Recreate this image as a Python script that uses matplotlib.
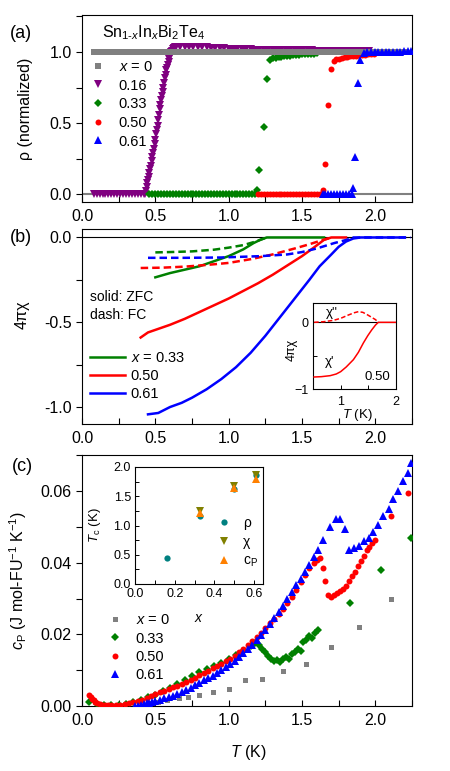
import matplotlib
matplotlib.use("Agg")
import matplotlib.pyplot as plt
from matplotlib.ticker import MultipleLocator

plt.rcParams['font.family'] = ['Liberation Sans', 'DejaVu Sans']
plt.rcParams['mathtext.fontset'] = 'custom'
plt.rcParams['mathtext.rm'] = 'Liberation Sans'
plt.rcParams['mathtext.it'] = 'Liberation Sans:italic'
plt.rcParams['mathtext.bf'] = 'Liberation Sans:bold'

# ---------------- Panel (a): normalized resistivity ----------------
T_a0 = [0.08, 0.12, 0.16, 0.20, 0.24, 0.28, 0.32, 0.36, 0.40, 0.44, 0.48, 0.52, 0.56, 0.60,
        0.64, 0.68, 0.72, 0.76, 0.80, 0.84, 0.88, 0.92, 0.96, 1.00, 1.04, 1.08, 1.12, 1.16,
        1.20, 1.24, 1.28, 1.32, 1.36, 1.40, 1.44, 1.48, 1.52, 1.56, 1.60, 1.64, 1.68, 1.72,
        1.76, 1.80, 1.84, 1.88, 1.92, 1.96, 2.00, 2.04, 2.08, 2.12, 2.16, 2.20]
rho_a0 = [1.0, 1.0, 1.0, 1.0, 1.0, 1.0, 1.0, 1.0, 1.0, 1.0, 1.0, 1.0, 1.0, 1.0,
          1.0, 1.0, 1.0, 1.0, 1.0, 1.0, 1.0, 1.0, 1.0, 1.0, 1.0, 1.0, 1.0, 1.0,
          1.0, 1.0, 1.0, 1.0, 1.0, 1.0, 1.0, 1.0, 1.0, 1.0, 1.0, 1.0, 1.0, 1.0,
          1.0, 1.0, 1.0, 1.0, 1.0, 1.0, 1.0, 1.0, 1.0, 1.0, 1.0, 1.0]

T_a16 = [0.08, 0.10, 0.12, 0.14, 0.16, 0.18, 0.20, 0.22, 0.24, 0.26, 0.28, 0.30, 0.32, 0.34,
         0.36, 0.38, 0.40, 0.42,
         0.430, 0.435, 0.440, 0.445, 0.450, 0.455, 0.460, 0.465, 0.470, 0.475, 0.480, 0.485,
         0.490, 0.495, 0.500, 0.505, 0.510, 0.515, 0.520, 0.525, 0.530, 0.535, 0.540, 0.545,
         0.550, 0.555, 0.560, 0.565, 0.570, 0.575, 0.580, 0.585, 0.590, 0.595, 0.600, 0.605,
         0.610, 0.615, 0.620, 0.625, 0.630, 0.635, 0.640,
         0.67, 0.70, 0.73, 0.76, 0.79, 0.82, 0.85, 0.88, 0.91, 0.94, 0.97,
         1.00, 1.03, 1.06, 1.09, 1.12, 1.15, 1.18, 1.21, 1.24, 1.27, 1.30,
         1.33, 1.36, 1.39, 1.42, 1.45, 1.48, 1.51, 1.54, 1.57, 1.60, 1.63,
         1.66, 1.69, 1.72, 1.75, 1.78, 1.81, 1.84, 1.87, 1.90, 1.93, 1.96]
rho_a16 = [0.0, 0.0, 0.0, 0.0, 0.0, 0.0, 0.0, 0.0, 0.0, 0.0, 0.0, 0.0, 0.0, 0.0,
           0.0, 0.0, 0.0, 0.0,
           0.0, 0.02, 0.05, 0.08, 0.10, 0.12, 0.15, 0.18, 0.20, 0.23, 0.26, 0.29,
           0.32, 0.35, 0.38, 0.42, 0.45, 0.48, 0.52, 0.56, 0.60, 0.63, 0.66, 0.69,
           0.72, 0.75, 0.78, 0.82, 0.84, 0.87, 0.89, 0.91, 0.93, 0.95, 0.97, 0.985,
           1.0, 1.01, 1.02, 1.025, 1.03, 1.033, 1.035,
           1.036, 1.038, 1.037, 1.036, 1.035, 1.034, 1.032, 1.03, 1.028, 1.026, 1.025,
           1.024, 1.022, 1.021, 1.02, 1.019, 1.018, 1.017, 1.017, 1.016, 1.016, 1.015,
           1.015, 1.014, 1.014, 1.013, 1.013, 1.012, 1.012, 1.011, 1.011, 1.01, 1.01,
           1.01, 1.009, 1.009, 1.008, 1.008, 1.007, 1.007, 1.006, 1.006, 1.005, 1.005]

T_a33 = [0.46, 0.48, 0.50, 0.52, 0.54, 0.56, 0.58, 0.60, 0.62, 0.64, 0.66, 0.68, 0.70, 0.72,
         0.74, 0.76, 0.78, 0.80, 0.82, 0.84, 0.86, 0.88, 0.90, 0.92, 0.94, 0.96, 0.98, 1.00,
         1.02, 1.04, 1.06, 1.08, 1.10, 1.12, 1.14, 1.16, 1.18, 1.19, 1.21, 1.24, 1.26, 1.28,
         1.30, 1.32, 1.34, 1.36, 1.38, 1.40, 1.42, 1.44, 1.46, 1.48, 1.50, 1.52, 1.54, 1.56,
         1.58, 1.60]
rho_a33 = [0.0, 0.0, 0.0, 0.0, 0.0, 0.0, 0.0, 0.0, 0.0, 0.0, 0.0, 0.0, 0.0, 0.0,
           0.0, 0.0, 0.0, 0.0, 0.0, 0.0, 0.0, 0.0, 0.0, 0.0, 0.0, 0.0, 0.0, 0.0,
           0.0, 0.0, 0.0, 0.0, 0.0, 0.0, 0.0, 0.0, 0.0, 0.03, 0.17, 0.47, 0.81, 0.945,
           0.955, 0.96, 0.963, 0.966, 0.969, 0.972, 0.975, 0.977, 0.979, 0.981, 0.983, 0.985,
           0.987, 0.988, 0.989, 0.99]

T_a50 = [1.20, 1.22, 1.24, 1.26, 1.28, 1.30, 1.32, 1.34, 1.36, 1.38, 1.40, 1.42, 1.44, 1.46,
         1.48, 1.50, 1.52, 1.54, 1.56, 1.58, 1.60, 1.62, 1.64, 1.66, 1.68, 1.70, 1.715, 1.73,
         1.75, 1.77, 1.79, 1.81, 1.83, 1.85, 1.87, 1.89, 1.91, 1.93, 1.95, 1.97, 1.99]
rho_a50 = [0.0, 0.0, 0.0, 0.0, 0.0, 0.0, 0.0, 0.0, 0.0, 0.0, 0.0, 0.0, 0.0, 0.0,
           0.0, 0.0, 0.0, 0.0, 0.0, 0.0, 0.0, 0.0, 0.03, 0.21, 0.63, 0.88, 0.94, 0.948,
           0.953, 0.958, 0.962, 0.966, 0.969, 0.972, 0.975, 0.977, 0.979, 0.981, 0.983, 0.985,
           0.987]

T_a61 = [1.64, 1.66, 1.68, 1.70, 1.72, 1.74, 1.76, 1.78, 1.80, 1.82, 1.84, 1.845, 1.86, 1.88,
         1.895, 1.92, 1.945, 1.97, 1.995, 2.02, 2.045, 2.07, 2.095, 2.12, 2.145, 2.17, 2.195,
         2.22, 2.245]
rho_a61 = [0.0, 0.0, 0.0, 0.0, 0.0, 0.0, 0.0, 0.0, 0.0, 0.0, 0.0, 0.04, 0.26, 0.78,
           0.945, 0.99, 1.0, 1.0, 1.0, 1.0, 1.0, 1.0, 1.0, 1.0, 1.0, 1.003, 1.005,
           1.01, 1.01]

# ---------------- Panel (b): susceptibility ----------------
T_b33_zfc = [0.50, 0.60, 0.70, 0.80, 0.90, 1.00, 1.10, 1.17, 1.22, 1.26, 1.40, 1.55, 1.65]
chi_b33_zfc = [-0.235, -0.21, -0.19, -0.17, -0.14, -0.11, -0.07, -0.033, -0.012, 0.0, 0.0, 0.0, 0.0]
T_b33_fc = [0.50, 0.60, 0.75, 0.90, 1.00, 1.10, 1.18, 1.26]
chi_b33_fc = [-0.088, -0.086, -0.082, -0.072, -0.06, -0.045, -0.025, 0.0]

T_b50_zfc = [0.40, 0.45, 0.50, 0.60, 0.70, 0.80, 0.90, 1.00, 1.10, 1.20, 1.30, 1.40, 1.50,
             1.58, 1.65, 1.70, 1.75, 1.80]
chi_b50_zfc = [-0.59, -0.56, -0.545, -0.515, -0.48, -0.44, -0.40, -0.36, -0.315, -0.27,
               -0.22, -0.165, -0.11, -0.06, -0.014, 0.0, 0.0, 0.0]
T_b50_fc = [0.40, 0.55, 0.70, 0.85, 1.00, 1.15, 1.30, 1.45, 1.55, 1.63, 1.70]
chi_b50_fc = [-0.18, -0.178, -0.172, -0.162, -0.15, -0.128, -0.10, -0.065, -0.04, -0.018, 0.0]

T_b61_zfc = [0.45, 0.52, 0.60, 0.68, 0.75, 0.85, 0.95, 1.05, 1.15, 1.25, 1.35, 1.45, 1.55,
             1.62, 1.70, 1.75, 1.80, 1.85, 1.90, 2.00, 2.10, 2.20]
chi_b61_zfc = [-1.043, -1.035, -1.0, -0.975, -0.945, -0.895, -0.835, -0.765, -0.68, -0.58,
               -0.47, -0.36, -0.25, -0.17, -0.10, -0.055, -0.024, -0.006, 0.0, 0.0, 0.0, 0.0]
T_b61_fc = [0.45, 0.70, 0.95, 1.22, 1.40, 1.50, 1.60, 1.72, 1.80, 1.85, 1.95, 2.05, 2.15, 2.24]
chi_b61_fc = [-0.12, -0.12, -0.118, -0.11, -0.10, -0.086, -0.065, -0.033, -0.015, 0.0,
              0.0, 0.0, 0.0, 0.0]

# Inset (b): x = 0.50 ac susceptibility
T_in_re = [0.52, 0.65, 0.81, 0.92, 1.00, 1.10, 1.23, 1.32, 1.41, 1.49, 1.56, 1.63, 1.68,
           1.80, 1.90, 2.00]
chi_in_re = [-0.82, -0.815, -0.80, -0.775, -0.74, -0.67, -0.56, -0.45, -0.31, -0.20, -0.115,
             -0.04, 0.0, 0.0, 0.0, 0.0]
T_in_im = [0.52, 0.70, 0.87, 1.00, 1.14, 1.25, 1.32, 1.40, 1.47, 1.55, 1.63, 1.68]
chi_in_im = [0.0, 0.01, 0.03, 0.06, 0.11, 0.145, 0.16, 0.15, 0.12, 0.08, 0.04, 0.0]

# ---------------- Panel (c): specific heat ----------------
T_c0 = [0.45, 0.52, 0.58, 0.66, 0.72, 0.80, 0.89, 1.00, 1.11, 1.23, 1.37, 1.53, 1.70, 1.89, 2.11]
cp_c0 = [0.0008, 0.0012, 0.0016, 0.0021, 0.0026, 0.0031, 0.0038, 0.0048, 0.0073, 0.0075,
         0.0098, 0.0116, 0.0166, 0.0220, 0.0300]

T_c33 = [0.05, 0.10, 0.15, 0.20, 0.25, 0.30, 0.35, 0.40, 0.45, 0.50, 0.55, 0.60, 0.65, 0.70,
         0.75, 0.80, 0.85, 0.90, 0.95, 1.00, 1.05, 1.10, 1.15, 1.18, 1.21, 1.23, 1.25, 1.27,
         1.29, 1.31, 1.33, 1.35, 1.37, 1.39, 1.41, 1.43, 1.45, 1.47, 1.49, 1.51, 1.53, 1.55,
         1.57, 1.59, 1.61, 1.83, 2.04, 2.24]
cp_c33 = [0.0012, 0.0006, 0.0003, 0.0003, 0.0004, 0.0006, 0.0010, 0.0016, 0.0024, 0.0032,
          0.0041, 0.0051, 0.0061, 0.0072, 0.0083, 0.0094, 0.0104, 0.0112, 0.0120, 0.0130,
          0.0142, 0.0155, 0.0167, 0.0175, 0.0170, 0.0160, 0.0150, 0.0140, 0.0132, 0.0125,
          0.0128, 0.0122, 0.0130, 0.0138, 0.0132, 0.0145, 0.0150, 0.0158, 0.0155, 0.0180,
          0.0185, 0.0195, 0.0190, 0.0205, 0.0212, 0.0287, 0.0380, 0.0470]

T_c50 = [0.05, 0.06, 0.07, 0.08, 0.09, 0.10, 0.12, 0.14, 0.16, 0.18, 0.20, 0.23, 0.26, 0.29,
         0.32, 0.35, 0.38, 0.41, 0.44, 0.47, 0.50, 0.53, 0.56, 0.59, 0.62, 0.65, 0.68, 0.71,
         0.74, 0.77, 0.80, 0.83, 0.86, 0.89, 0.92, 0.95, 0.98, 1.01, 1.04, 1.07, 1.10, 1.13,
         1.16, 1.19, 1.22, 1.25, 1.28, 1.31, 1.34, 1.37, 1.40, 1.43, 1.46, 1.49, 1.52, 1.55,
         1.58, 1.60, 1.62, 1.64, 1.66, 1.68, 1.70, 1.72, 1.74, 1.76, 1.78, 1.80, 1.82, 1.84,
         1.86, 1.88, 1.90, 1.92, 1.94, 1.96, 1.98, 2.00, 2.11, 2.22]
cp_c50 = [0.0030, 0.0025, 0.0020, 0.0016, 0.0012, 0.0009, 0.0006, 0.0004, 0.0003, 0.0003,
          0.0003, 0.0003, 0.0004, 0.0005, 0.0007, 0.0010, 0.0013, 0.0017, 0.0022, 0.0028,
          0.0033, 0.0038, 0.0043, 0.0048, 0.0052, 0.0057, 0.0062, 0.0067, 0.0072, 0.0079,
          0.0086, 0.0092, 0.0098, 0.0105, 0.0111, 0.0118, 0.0125, 0.0132, 0.0141, 0.0150,
          0.0160, 0.0170, 0.0181, 0.0193, 0.0205, 0.0218, 0.0231, 0.0244, 0.0257, 0.0272,
          0.0287, 0.0305, 0.0323, 0.0345, 0.0365, 0.0385, 0.0400, 0.0408, 0.0412, 0.0385,
          0.0348, 0.0310, 0.0305, 0.0310, 0.0315, 0.0320, 0.0328, 0.0335, 0.0350, 0.0362,
          0.0375, 0.0390, 0.0405, 0.0420, 0.0435, 0.0445, 0.0455, 0.0465, 0.0530, 0.0595]

T_c61 = [0.36, 0.38, 0.40, 0.42, 0.44, 0.46, 0.48, 0.50, 0.53, 0.56, 0.59, 0.62, 0.65, 0.68,
         0.71, 0.74, 0.77, 0.80, 0.83, 0.86, 0.89, 0.92, 0.95, 0.98, 1.01, 1.04, 1.07, 1.10,
         1.13, 1.16, 1.19, 1.22, 1.25, 1.28, 1.31, 1.34, 1.37, 1.40, 1.43, 1.46, 1.49, 1.52,
         1.55, 1.58, 1.61, 1.645, 1.69, 1.735, 1.76, 1.79, 1.823, 1.857, 1.89, 1.925, 1.96,
         1.986, 2.016, 2.055, 2.09, 2.12, 2.157, 2.19, 2.22, 2.245]
cp_c61 = [0.0000, 0.0001, 0.0003, 0.0005, 0.0007, 0.0009, 0.0011, 0.0013, 0.0017, 0.0021,
          0.0025, 0.0029, 0.0034, 0.0039, 0.0045, 0.0051, 0.0058, 0.0065, 0.0072, 0.0078,
          0.0085, 0.0092, 0.0100, 0.0109, 0.0118, 0.0127, 0.0137, 0.0147, 0.0158, 0.0170,
          0.0184, 0.0198, 0.0213, 0.0228, 0.0245, 0.0262, 0.0280, 0.0298, 0.0318, 0.0338,
          0.0355, 0.0375, 0.0395, 0.0415, 0.0436, 0.0464, 0.0500, 0.0523, 0.0523, 0.0494,
          0.0436, 0.0440, 0.0447, 0.0460, 0.0470, 0.0487, 0.0506, 0.0530, 0.0550, 0.0578,
          0.0600, 0.0627, 0.0650, 0.0678]

# Inset (c): Tc vs x
x_rho = [0.16, 0.33, 0.50, 0.61]
Tc_rho = [0.44, 1.16, 1.62, 1.86]
x_chi = [0.33, 0.50, 0.61]
Tc_chi = [1.25, 1.67, 1.87]
x_cp = [0.33, 0.50, 0.61]
Tc_cp = [1.22, 1.64, 1.80]

GRAY = '#808080'
PURPLE = '#800080'
GREEN = '#008000'
RED = '#ff0000'
BLUE = '#0000ff'
TEAL = '#008080'
OLIVE = '#808000'
ORANGE = '#ff8000'

W, H = 450, 771
fig = plt.figure(figsize=(W / 100, H / 100), dpi=100)


def px_axes(l, t, r, b):
    return fig.add_axes([l / W, 1 - b / H, (r - l) / W, (b - t) / H])


def style_main(ax):
    for s in ax.spines.values():
        s.set_linewidth(0.8)
    ax.tick_params(axis='x', which='both', direction='in', labelsize=11.5, pad=5)
    ax.tick_params(axis='x', which='both', length=4, width=0.8)
    ax.tick_params(axis='y', which='both', direction='out', labelsize=11.5)
    ax.tick_params(axis='y', which='both', length=4, width=0.8)
    ax.set_xlim(0, 2.25)
    ax.xaxis.set_major_locator(MultipleLocator(0.5))
    ax.xaxis.set_minor_locator(MultipleLocator(0.25))
    ax.xaxis.set_major_formatter(plt.FormatStrFormatter('%.1f'))


# ---------- (a) ----------
axa = px_axes(82, 15, 412, 202)
style_main(axa)
axa.set_ylim(-0.055, 1.26)
axa.yaxis.set_major_locator(MultipleLocator(0.5))
axa.yaxis.set_minor_locator(MultipleLocator(0.25))
axa.yaxis.set_major_formatter(plt.FormatStrFormatter('%.1f'))
axa.axhline(0, color=GRAY, lw=1.5, zorder=1)
axa.plot(T_a16, rho_a16, 'v', color=PURPLE, ms=5.2, mew=0, zorder=2, label='0.16')
axa.plot(T_a33, rho_a33, 'D', color=GREEN, ms=4.3, mew=0, zorder=2, label='0.33')
axa.plot(T_a50, rho_a50, 'o', color=RED, ms=4.3, mew=0, zorder=2, label='0.50')
axa.plot(T_a0, rho_a0, 's', color=GRAY, ms=4.8, mew=0, zorder=3, label=r'$x$ = 0')
axa.plot(T_a61, rho_a61, '^', color=BLUE, ms=5.2, mew=0, zorder=4, label='0.61')
h, l = axa.get_legend_handles_labels()
order = [3, 0, 1, 2, 4]
axa.legend([h[i] for i in order], [l[i] for i in order], loc='upper left',
           bbox_to_anchor=(0.027, 0.76), frameon=False, fontsize=10.5, handlelength=1.0,
           handletextpad=0.9, labelspacing=0.32, borderpad=0, borderaxespad=0)
axa.text(0.06, 0.905, r'Sn$_{\mathrm{1\text{-}}x}$In$_x$Bi$_2$Te$_4$', transform=axa.transAxes,
         fontsize=11.5, va='center', ha='left')
axa.set_ylabel('ρ (normalized)', fontsize=11.5)
axa.yaxis.set_label_coords(-0.148, 0.5)
fig.text(21 / W, 1 - 33 / H, '(a)', fontsize=13, ha='center', va='center')

# ---------- (b) ----------
axb = px_axes(82, 229, 412, 424)
style_main(axb)
axb.set_ylim(-1.1, 0.05)
axb.yaxis.set_major_locator(MultipleLocator(0.5))
axb.yaxis.set_minor_locator(MultipleLocator(0.25))
axb.yaxis.set_major_formatter(plt.FormatStrFormatter('%.1f'))
axb.axhline(0, color='black', lw=0.8, zorder=1)
lw_b = 1.8
dash = (3.0, 1.6)
axb.plot(T_b33_zfc, chi_b33_zfc, '-', color=GREEN, lw=lw_b, zorder=3, label=r'$x$ = 0.33')
axb.plot(T_b50_zfc, chi_b50_zfc, '-', color=RED, lw=lw_b, zorder=3, label='0.50')
axb.plot(T_b61_zfc, chi_b61_zfc, '-', color=BLUE, lw=lw_b, zorder=3, label='0.61')
axb.plot(T_b33_fc, chi_b33_fc, '--', color=GREEN, lw=lw_b, dashes=dash, zorder=3)
axb.plot(T_b50_fc, chi_b50_fc, '--', color=RED, lw=lw_b, dashes=dash, zorder=3)
axb.plot(T_b61_fc, chi_b61_fc, '--', color=BLUE, lw=lw_b, dashes=dash, zorder=3)
axb.legend(loc='upper left', bbox_to_anchor=(0.024, 0.372), frameon=False, fontsize=10.5,
           handlelength=2.4, handletextpad=0.4, labelspacing=0.25, borderpad=0, borderaxespad=0)
axb.text(0.024, 0.651, 'solid: ZFC', transform=axb.transAxes, fontsize=10, va='center')
axb.text(0.024, 0.559, 'dash: FC', transform=axb.transAxes, fontsize=10, va='center')
axb.set_ylabel('4πχ', fontsize=11.5)
axb.yaxis.set_label_coords(-0.16, 0.56)
fig.text(21 / W, 1 - 237 / H, '(b)', fontsize=13, ha='center', va='center')

# inset (b)
axbi = px_axes(313, 303, 396, 389)
for s in axbi.spines.values():
    s.set_linewidth(0.8)
axbi.set_xlim(0.5, 2.0)
axbi.set_ylim(-1.0, 0.29)
axbi.xaxis.set_major_locator(MultipleLocator(1))
axbi.xaxis.set_minor_locator(MultipleLocator(0.5))
axbi.yaxis.set_major_locator(MultipleLocator(1))
axbi.yaxis.set_minor_locator(MultipleLocator(0.5))
axbi.tick_params(which='both', direction='in', labelsize=9, length=3, width=0.7, pad=3)
axbi.tick_params(axis='x', pad=5)
axbi.axhline(0, color='black', lw=0.8, zorder=1)
axbi.plot(T_in_re, chi_in_re, '-', color=RED, lw=1.1, zorder=3)
axbi.plot(T_in_im, chi_in_im, '--', color=RED, lw=1.1, dashes=(3, 1.5), zorder=3)
axbi.text(0.23, 0.885, "χ''", transform=axbi.transAxes, fontsize=9.5, ha='center', va='center')
axbi.text(0.2, 0.31, "χ'", transform=axbi.transAxes, fontsize=9.5, ha='center', va='center')
axbi.text(0.77, 0.14, '0.50', transform=axbi.transAxes, fontsize=9.5, ha='center', va='center')
axbi.set_ylabel('4πχ', fontsize=9, labelpad=0)
axbi.yaxis.set_label_coords(-0.18, 0.45)
axbi.set_xlabel(r'$T$ (K)', fontsize=9.5)
axbi.xaxis.set_label_coords(0.53, -0.21)

# ---------- (c) ----------
axc = px_axes(82, 455, 412, 706)
style_main(axc)
axc.set_ylim(0, 0.0701)
axc.yaxis.set_major_locator(MultipleLocator(0.02))
axc.yaxis.set_minor_locator(MultipleLocator(0.01))
axc.yaxis.set_major_formatter(plt.FormatStrFormatter('%.2f'))
axc.plot(T_c0, cp_c0, 's', color=GRAY, ms=3.6, mew=0, zorder=2, label=r'$x$ = 0')
axc.plot(T_c33, cp_c33, 'D', color=GREEN, ms=4.3, mew=0, zorder=3, label='0.33')
axc.plot(T_c50, cp_c50, 'o', color=RED, ms=4.3, mew=0, zorder=4, label='0.50')
axc.plot(T_c61, cp_c61, '^', color=BLUE, ms=5.2, mew=0, zorder=5, label='0.61')
axc.legend(loc='upper left', bbox_to_anchor=(0.079, 0.37), frameon=False, fontsize=10.5,
           handlelength=1.0, handletextpad=0.9, labelspacing=0.3, borderpad=0, borderaxespad=0)
axc.set_ylabel(r'$c_\mathrm{P}$ (J mol-FU$^{-1}$ K$^{-1}$)', fontsize=11.5)
axc.yaxis.set_label_coords(-0.16, 0.5)
axc.set_xlabel(r'$T$ (K)', fontsize=11.5)
axc.xaxis.set_label_coords(0.503, -0.147)
fig.text(22 / W, 1 - 467 / H, '(c)', fontsize=13, ha='center', va='center')

# inset (c)
axci = px_axes(135, 467, 263, 584)
for s in axci.spines.values():
    s.set_linewidth(0.8)
axci.set_xlim(0, 0.645)
axci.set_ylim(0, 2.0)
axci.xaxis.set_major_locator(MultipleLocator(0.2))
axci.xaxis.set_minor_locator(MultipleLocator(0.1))
axci.yaxis.set_major_locator(MultipleLocator(0.5))
axci.yaxis.set_minor_locator(MultipleLocator(0.25))
axci.xaxis.set_major_formatter(plt.FormatStrFormatter('%.1f'))
axci.yaxis.set_major_formatter(plt.FormatStrFormatter('%.1f'))
axci.tick_params(which='both', direction='in', labelsize=9, length=3, width=0.7, pad=3)
axci.plot(x_rho, Tc_rho, 'o', color=TEAL, ms=4.5, mew=0, zorder=3, label='ρ')
axci.plot(x_chi, Tc_chi, 'v', color=OLIVE, ms=5.5, mew=0, zorder=3, label='χ')
axci.plot(x_cp, Tc_cp, '^', color=ORANGE, ms=5.5, mew=0, zorder=4, label=r'c$_\mathrm{P}$')
axci.legend(loc='upper left', bbox_to_anchor=(0.64, 0.58), frameon=False, fontsize=10,
            handlelength=1.0, handletextpad=0.9, labelspacing=0.35, borderpad=0, borderaxespad=0)
axci.set_ylabel(r'$T_\mathrm{c}$ (K)', fontsize=9.5)
axci.yaxis.set_label_coords(-0.25, 0.5)
axci.set_xlabel(r'$x$', fontsize=10)
axci.xaxis.set_label_coords(0.5, -0.23)

fig.savefig('out.png', dpi=100)
